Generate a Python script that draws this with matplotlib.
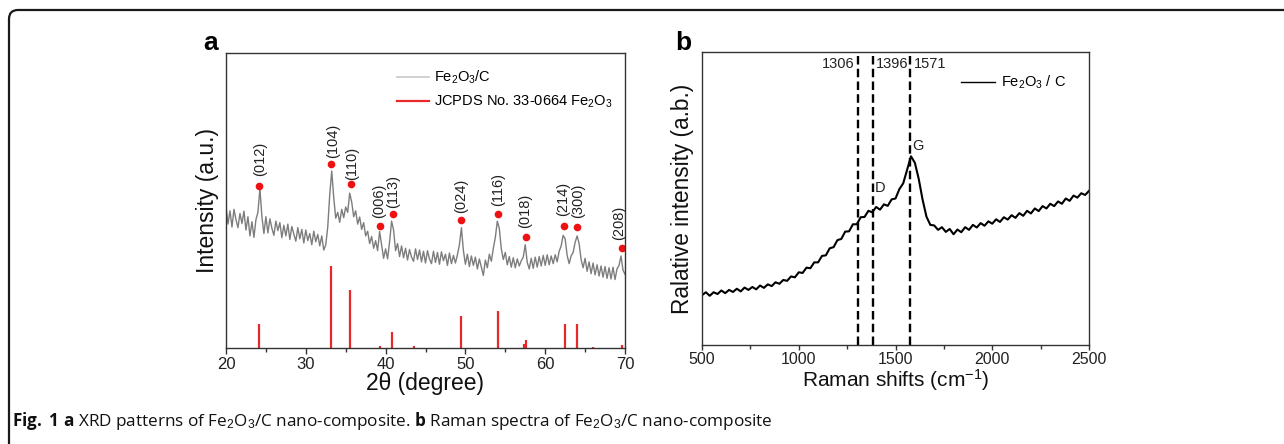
import matplotlib
matplotlib.use("Agg")
import matplotlib.pyplot as plt
from matplotlib.patches import FancyBboxPatch
from matplotlib.lines import Line2D
from matplotlib.transforms import IdentityTransform

plt.rcParams['font.family'] = ['Liberation Sans', 'DejaVu Sans']
plt.rcParams['mathtext.fontset'] = 'custom'
plt.rcParams['mathtext.rm'] = 'Liberation Sans'
plt.rcParams['mathtext.bf'] = 'Open Sans:bold'
plt.rcParams['mathtext.it'] = 'Liberation Sans:italic'

# ---------------- XRD data (panel a), 2theta from 20 to 70 in 0.25 steps ----------------
xrd_intensity = [
    48.0, 42.0, 46.5, 41.0,   # 20
    47.0, 43.5, 40.8, 45.6,   # 21
    42.2, 46.4, 40.0, 44.5,   # 22
    38.0, 42.8, 37.5, 43.5,   # 23
    46.0, 54.0, 44.5, 38.8,   # 24
    44.5, 39.0, 43.8, 40.6,   # 25
    38.2, 43.0, 39.8, 42.5,   # 26
    37.4, 41.6, 38.0, 42.0,   # 27
    36.8, 41.2, 38.6, 36.2,   # 28
    40.8, 37.0, 40.2, 35.6,   # 29
    40.0, 36.4, 38.8, 35.0,   # 30
    39.6, 36.0, 38.5, 34.6,   # 31
    38.0, 33.2, 35.0, 41.0,   # 32
    52.0, 60.0, 51.0, 44.0,   # 33
    46.0, 42.6, 47.0, 44.2,   # 34
    47.8, 46.0, 52.5, 49.5,   # 35
    44.5, 46.5, 42.0, 44.4,   # 36
    40.2, 42.5, 38.0, 39.6,   # 37
    35.4, 37.8, 33.8, 36.4,   # 38
    33.0, 39.5, 35.0, 30.4,   # 39
    33.6, 30.2, 36.0, 43.0,   # 40
    40.0, 33.0, 35.4, 31.0,   # 41
    34.6, 30.6, 33.8, 29.8,   # 42
    33.4, 30.8, 29.4, 33.6,   # 43
    30.0, 33.2, 29.2, 32.8,   # 44
    28.8, 33.0, 30.2, 28.6,   # 45
    32.8, 29.0, 32.4, 28.4,   # 46
    32.6, 29.6, 31.8, 28.0,   # 47
    32.2, 28.6, 31.4, 28.8,   # 48
    31.6, 35.0, 40.8, 33.0,   # 49
    28.4, 31.8, 27.6, 31.2,   # 50
    28.0, 30.8, 26.8, 30.2,   # 51
    27.4, 24.6, 29.8, 27.2,   # 52
    31.8, 29.4, 33.8, 37.5,   # 53
    43.0, 40.5, 33.6, 30.0,   # 54
    32.4, 28.2, 31.0, 27.4,   # 55
    30.6, 27.2, 30.2, 27.8,   # 56
    29.6, 30.8, 35.0, 29.0,   # 57
    26.8, 30.4, 27.0, 30.8,   # 58
    27.4, 31.0, 27.8, 31.4,   # 59
    28.0, 31.6, 28.2, 31.2,   # 60
    28.6, 31.6, 29.2, 32.8,   # 61
    34.6, 38.2, 37.0, 31.4,   # 62
    28.6, 31.2, 32.4, 35.8,   # 63
    38.0, 35.4, 30.0, 27.2,   # 64
    30.4, 26.0, 29.2, 25.2,   # 65
    28.8, 24.8, 28.2, 24.4,   # 66
    27.8, 24.0, 27.6, 23.6,   # 67
    27.2, 23.4, 27.4, 23.2,   # 68
    26.8, 28.0, 31.2, 26.4,   # 69
    25.0,                     # 70
]
xrd_theta = [20.0 + 0.25 * i for i in range(len(xrd_intensity))]

# JCPDS No. 33-0664 reference sticks
ref_pos = [24.1, 33.15, 35.6, 39.3, 40.85, 43.5, 49.45, 54.05, 57.4, 57.6, 62.45, 64.0, 66.0, 69.6]
ref_int = [8.2, 27.7, 19.5, 0.8, 5.4, 0.8, 11.0, 12.7, 1.5, 2.6, 8.2, 8.2, 0.3, 0.9]

# indexed peaks: position, marker height, label
hkl_pos = [24.15, 33.15, 35.65, 39.3, 40.9, 49.5, 54.1, 57.55, 62.4, 63.95, 69.6]
hkl_dot = [55.0, 62.4, 55.6, 41.2, 45.5, 43.4, 45.5, 37.7, 41.2, 41.0, 33.8]
hkl_lab = ['(012)', '(104)', '(110)', '(006)', '(113)', '(024)', '(116)',
           '(018)', '(214)', '(300)', '(208)']
hkl_txt_x = [24.3, 33.4, 35.8, 39.2, 41.0, 49.5, 54.1, 57.5, 62.3, 64.1, 69.3]
hkl_txt_y = [58.2, 64.4, 57.0, 44.0, 47.5, 45.8, 48.0, 40.7, 44.6, 44.0, 36.7]

# ---------------- Raman data (panel b), 500 to 2500 cm-1 in 20 cm-1 steps ----------------
raman_int = [
    17.0, 18.0, 16.8, 18.0, 17.4, 18.6, 17.7, 18.8, 18.1, 19.2,   # 500-680
    18.3, 19.6, 18.8, 19.8, 19.0, 20.3, 19.5, 20.7, 20.1, 21.4,   # 700-880
    20.9, 22.2, 21.9, 23.4, 23.1, 24.8, 24.6, 26.4, 26.2, 28.2,   # 900-1080
    28.2, 30.4, 30.6, 33.0, 33.4, 35.8, 36.2, 38.7, 38.8, 41.2,   # 1100-1280
    41.2, 43.6, 43.7, 45.8, 45.3, 47.1, 46.2, 48.0, 47.5, 49.7,   # 1300-1480
    50.0, 53.2, 55.2, 59.8, 64.4, 62.2, 56.7, 49.6, 43.8, 41.0,   # 1500-1680
    40.8, 39.3, 40.2, 38.6, 39.6, 37.8, 39.4, 38.5, 40.2, 39.3,   # 1700-1880
    41.0, 40.1, 41.6, 40.7, 42.2, 41.4, 42.9, 42.0, 43.6, 42.8,   # 1900-2080
    44.3, 43.4, 45.0, 44.1, 45.8, 44.9, 46.6, 45.7, 47.4, 46.6,   # 2100-2280
    48.2, 47.4, 49.0, 48.2, 50.0, 49.2, 51.0, 50.3, 51.8, 51.2,   # 2300-2480
    52.6,                                                         # 2500
]
raman_shift = [500 + 20 * i for i in range(len(raman_int))]
dash_pos = [1306, 1382, 1577]
dash_lab = ['1306', '1396', '1571']

W, H = 1284, 444
fig = plt.figure(figsize=(W / 100, H / 100), dpi=100)

def px_axes(l, t, r, b):
    return fig.add_axes([l / W, 1 - b / H, (r - l) / W, (b - t) / H])

spine_c = '#333333'

def style(ax, labelsize, length, pad):
    for s in ax.spines.values():
        s.set_color(spine_c)
        s.set_linewidth(1.0)
    ax.tick_params(axis='x', direction='out', length=length, width=1, colors=spine_c,
                   labelsize=labelsize, labelcolor='#222222', pad=pad)
    ax.tick_params(axis='x', which='minor', direction='out', length=length - 0.8, width=1,
                   colors=spine_c)
    ax.set_yticks([])

# ---------- panel a ----------
axa = px_axes(226, 53, 625, 348)
axa.plot(xrd_theta, xrd_intensity, color='#7d7d7d', lw=1.0)
axa.vlines(ref_pos, 0, ref_int, color='#e8282b', lw=1.6)
axa.plot(hkl_pos, hkl_dot, 'o', color='#ee1111', ms=5.5, mec='none')
for x, y, s in zip(hkl_txt_x, hkl_txt_y, hkl_lab):
    axa.text(x, y, s, rotation=90, ha='center', va='bottom', fontsize=10.5, color='#222222')
axa.set_xlim(20, 70)
axa.set_ylim(0, 100)
axa.set_xticks([20, 30, 40, 50, 60, 70])
axa.set_xticks([25, 35, 45, 55, 65], minor=True)
style(axa, 12, 4, 2.5)
axa.set_xlabel('2θ (degree)', fontsize=16.5, labelpad=0, color='#111111')
axa.set_ylabel('Intensity (a.u.)', fontsize=16.5, labelpad=5, color='#111111')
h1 = Line2D([], [], color='#c8c8c8', lw=1.2)
h2 = Line2D([], [], color='#e8282b', lw=1.6)
axa.legend([h1, h2], ['Fe$_2$O$_3$/C', 'JCPDS No. 33-0664 Fe$_2$O$_3$'],
           loc='upper left', bbox_to_anchor=(0.428, 0.946), frameon=False,
           fontsize=10.5, handlelength=2.2, handletextpad=0.35, labelspacing=0.5,
           borderpad=0, borderaxespad=0)
fig.text(203 / W, 1 - 50 / H, 'a', fontsize=19, fontweight='bold', ha='left', va='baseline')

# ---------- panel b ----------
axb = px_axes(702, 52, 1089, 345)
axb.plot(raman_shift, raman_int, color='black', lw=1.5)
for xp in dash_pos:
    axb.axvline(xp, color='black', lw=1.7, ls=(0, (3.6, 1.8)))
axb.set_xlim(500, 2500)
axb.set_ylim(0, 100)
axb.set_xticks([500, 1000, 1500, 2000, 2500])
axb.set_xticks([750, 1250, 1750, 2250], minor=True)
style(axb, 11.5, 3.5, 1.5)
axb.set_xlabel('Raman shifts (cm$^{-1}$)', fontsize=15, labelpad=0, color='#111111')
axb.set_ylabel('Ralative intensity (a.b.)', fontsize=16.3, labelpad=6, color='#111111')
lab_y = 96.0
axb.text(dash_pos[0] - 20, lab_y, dash_lab[0], ha='right', va='center', fontsize=10.5, color='#222222')
axb.text(dash_pos[1] + 15, lab_y, dash_lab[1], ha='left', va='center', fontsize=10.5, color='#222222')
axb.text(dash_pos[2] + 20, lab_y, dash_lab[2], ha='left', va='center', fontsize=10.5, color='#222222')
axb.text(1585, 68, 'G', ha='left', va='center', fontsize=10.5, color='#222222')
axb.text(1395, 53.5, 'D', ha='left', va='center', fontsize=10.5, color='#222222')
h3 = Line2D([], [], color='black', lw=1.0)
axb.legend([h3], ['Fe$_2$O$_3$ / C'], loc='upper left', bbox_to_anchor=(0.67, 0.925),
           frameon=False, fontsize=10.5, handlelength=2.3, handletextpad=0.4,
           borderpad=0, borderaxespad=0)
fig.text(675 / W, 1 - 50 / H, 'b', fontsize=19, fontweight='bold', ha='left', va='baseline')

# ---------- caption ----------
fig.text(12 / W, 1 - 426 / H,
         r'$\mathbf{Fig.\ 1\ a}$ XRD patterns of Fe$_2$O$_3$/C nano-composite. '
         r'$\mathbf{b}$ Raman spectra of Fe$_2$O$_3$/C nano-composite',
         fontsize=12.3, family='Open Sans', ha='left', va='baseline', color='#111111')

# ---------- frame ----------
frame = FancyBboxPatch((9, -40), 1400, 40 + (H - 10), boxstyle='round,pad=0,rounding_size=9',
                       transform=IdentityTransform(), fill=False, ec='#1a1a1a', lw=1.6,
                       clip_on=False)
fig.patches.append(frame)

fig.savefig('out.png', dpi=100)
